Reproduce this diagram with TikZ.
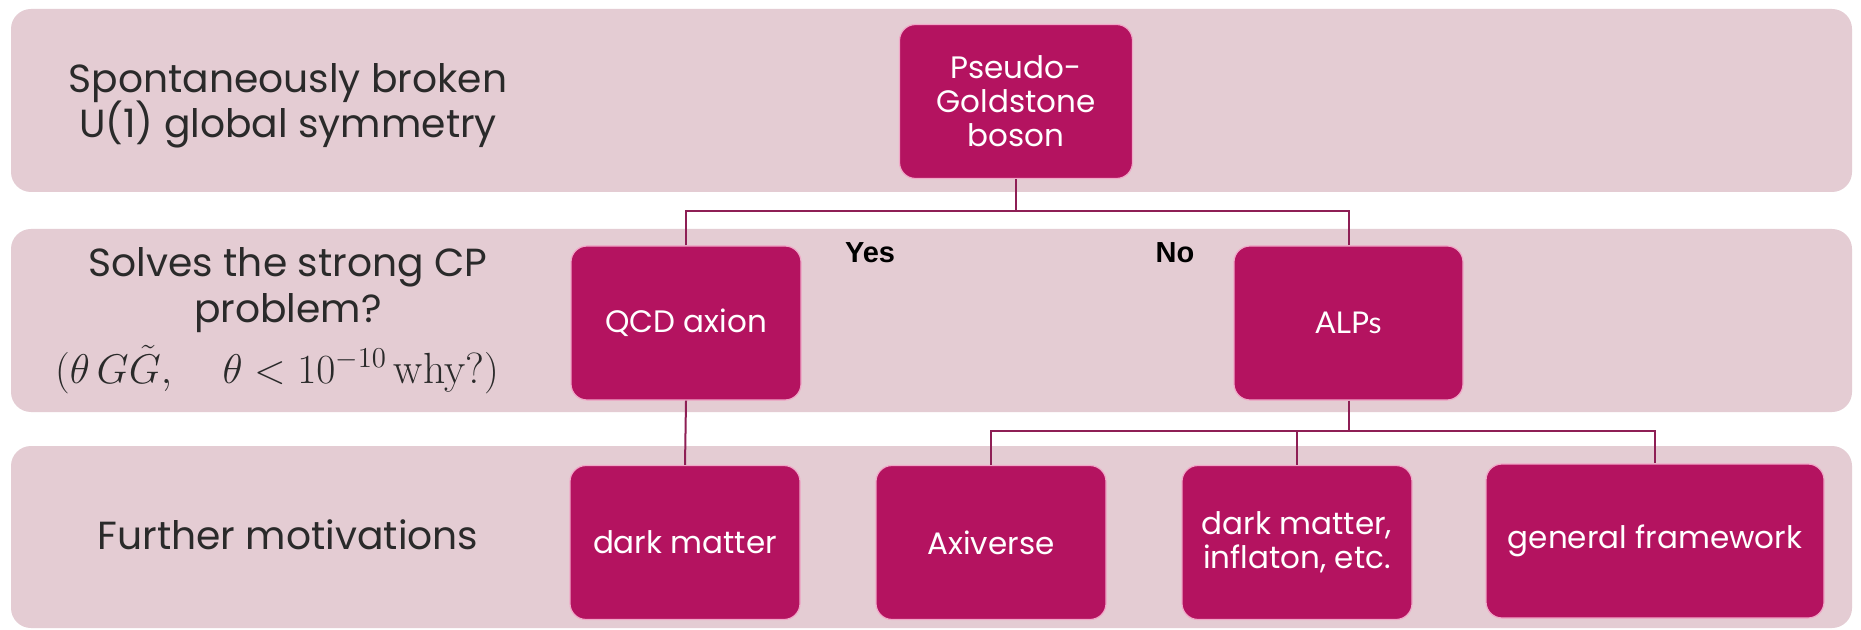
\documentclass[tikz,border=0pt]{standalone}
\usepackage[no-math]{fontspec}
\setmainfont{Poppins}
\newfontfamily\yesfont{Liberation Sans}
\newfontfamily\alpsfont{Lato}
\newfontfamily\lmr{Latin Modern Roman}
\definecolor{bandfill}{HTML}{E4CCD3}
\definecolor{boxfill}{HTML}{B41360}
\definecolor{boxedge}{HTML}{F0A8C8}
\definecolor{linecol}{HTML}{8E1F55}
\definecolor{txt}{HTML}{2A2A2A}
\begin{document}
\begin{tikzpicture}[x=0.5pt,y=-0.5pt,
  band/.style={fill=bandfill,rounded corners=10pt},
  topic/.style={anchor=base,text=txt,inner sep=0pt,font=\fontsize{19.6}{22.5}\selectfont},
  pbox/.style={draw=boxedge,line width=0.6pt,fill=boxfill,rounded corners=8pt,
     text=white,align=center,minimum height=77pt,inner sep=2pt,
     font=\fontsize{15.5}{17}\selectfont},
  conn/.style={draw=linecol,line width=1pt},
  yn/.style={font=\yesfont\bfseries\fontsize{14.5}{17}\selectfont,text=black}]
\useasboundingbox (0,0) rectangle (1861,630);
\fill[white] (0,0) rectangle (1861,630);
% bands
\path[band] (11,9) rectangle (1852,192);
\path[band] (11,229) rectangle (1852,412);
\path[band] (11,446) rectangle (1852,628);
% left labels
\node[topic] (t1a) at (288,93) {Spontaneously broken};
\node[topic] (t1b) at (288,138) {U(1) global symmetry};
\node[topic] (t2a) at (288,277) {Solves the strong CP};
\node[topic] (t2b) at (288,322) {problem?};
\node[anchor=base,inner sep=0pt,text=txt,font=\fontsize{21.8}{24}\selectfont] (t2m) at (277,383) {$(\theta\,G\tilde G,\quad \theta<10^{-10}\,\hbox{\lmr why?})$};
\node[topic] (t3) at (288,549) {Further motivations};
% boxes
\node[pbox,minimum width=116.5pt] (pg) at (1016,101.5) {Pseudo-\\Goldstone\\boson};
\node[pbox,minimum width=115pt] (qcd) at (686,323) {QCD axion};
\node[pbox,minimum width=114.5pt,font=\alpsfont\fontsize{15}{17}\selectfont] (alps) at (1348.5,323) {ALPs};
\node[pbox,minimum width=115pt] (dm) at (685,542.5) {dark matter};
\node[pbox,minimum width=115pt] (axv) at (991,542.5) {Axiverse};
\node[pbox,minimum width=115pt] (dmi) at (1297,542.5) {dark matter,\\inflaton, etc.};
\node[pbox,minimum width=169pt] (gen) at (1655,541) {general framework};
% yes / no
\node[yn] (yes) at (870,253) {Yes};
\node[yn] (no) at (1175,253) {No};
% connectors
\coordinate (j1) at (1016,211);
\coordinate (j2) at (1348.5,431);
\draw[conn] (pg.south) -- (j1);
\draw[conn] (qcd.north) |- (j1) -| (alps.north);
\draw[conn] (qcd.south) -- (dm.north);
\draw[conn] (alps.south) -- (j2);
\draw[conn] (axv.north) |- (j2) -| (gen.north);
\draw[conn] (dmi.north) -- (dmi.north |- j2);
\end{tikzpicture}
\end{document}
